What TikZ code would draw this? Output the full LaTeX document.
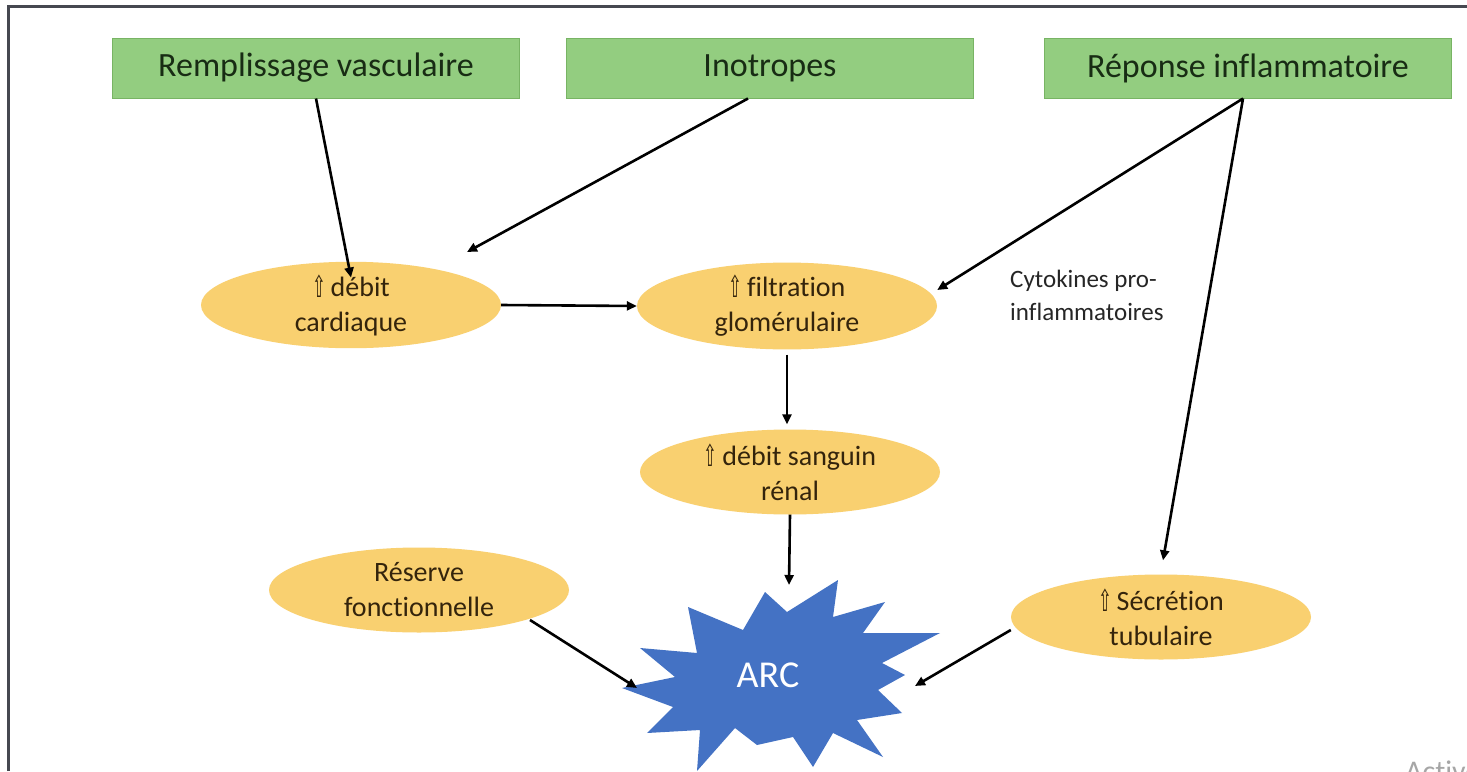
\documentclass[tikz,border=0pt]{standalone}
\usepackage{fontspec}
\setmainfont{Carlito}[Ligatures=NoCommon]
\newfontfamily\sym{DejaVu Sans}
\usetikzlibrary{shapes.geometric,arrows.meta,calc}
\definecolor{boxfill}{RGB}{147,205,128}
\definecolor{boxline}{RGB}{120,180,100}
\definecolor{boxtext}{RGB}{24,44,20}
\definecolor{ellfill}{RGB}{249,208,112}
\definecolor{elltext}{RGB}{52,36,12}
\definecolor{starblue}{RGB}{68,114,196}
\definecolor{framegray}{RGB}{70,72,80}
\newcommand{\up}{\raisebox{-1pt}{\scalebox{0.55}[1]{\sym\fontsize{30}{30}\selectfont ⇧}}\,}
\begin{document}
\begin{tikzpicture}[x=1pt,y=-1pt,
  topbox/.style={draw=boxline,line width=1pt,fill=boxfill,minimum width=407pt,minimum height=60pt,
    inner sep=0pt,text=boxtext,font=\fontsize{34}{36}\selectfont},
  oval/.style={ellipse,fill=ellfill,minimum width=300pt,minimum height=85pt,inner sep=0pt,
    text=elltext,align=center,font=\fontsize{28}{35}\selectfont},
  arr/.style={line width=2.6pt,draw=black,-{Triangle[length=10pt,width=9pt]}}]
\useasboundingbox (0,0) rectangle (1467,771);
\fill[white] (0,0) rectangle (1467,771);
% frame
\draw[framegray,line width=3pt] (8,771) -- (8,6) -- (1467,6);
% top boxes
\node[topbox] (b1) at (316,68) {Remplissage vasculaire};
\node[topbox] (b2) at (770,68) {Inotropes};
\node[topbox] (b3) at (1248,68) {Réponse inflammatoire};
% ellipses
\node[oval] (dc) at (351,305) {\up débit\\cardiaque};
\node[oval] (fg) at (787,306) {\up filtration\\glomérulaire};
\node[oval] (ds) at (790,472) {\up débit sanguin\\rénal};
\node[oval] (rf) at (419,590) {Réserve\\fonctionnelle};
\node[oval] (st) at (1161,617) {\up Sécrétion\\tubulaire};
% cytokines label
\node[anchor=north west,align=left,inner sep=0pt,text=black!85,font=\fontsize{25}{33}\selectfont] (cy) at (1010,270) {Cytokines pro-\\inflammatoires};
% star
\fill[starblue] (622,688) -- (675,677) -- (640,648) -- (697,653) -- (688,607) -- (743,630)
  -- (765,592) -- (787,612) -- (838,580) -- (833,617) -- (885,602) -- (863,633)
  -- (940,633) -- (882,663) -- (905,675) -- (878,690) -- (902,713) -- (857,720)
  -- (883,757) -- (833,733) -- (813,767) -- (793,737) -- (757,745) -- (735,728)
  -- (697,771) -- (700,730) -- (647,733) -- (673,707) -- cycle;
\node[text=white,font=\fontsize{38}{40}\selectfont,inner sep=0pt] (arc) at (768,675) {ARC};
\coordinate (arctop) at (789,585);
\coordinate (arcL) at (637,688);
\coordinate (arcR) at (915,686);
% connectors
\draw[arr] (b1.south) -- ([yshift=-16pt]dc.north);
\draw[arr] ([xshift=-22pt]b2.south) -- ([shift={(116,-53)}]dc.center);
\draw[arr] ([xshift=-5pt]b3.south) -- ([yshift=16pt]fg.east);
\draw[arr] ([xshift=-5pt]b3.south) -- ([shift={(2,-14)}]st.north);
\draw[arr] (dc.east) -- (fg.west);
\draw[arr] ([yshift=-5pt]fg.south) -- ([yshift=5pt]fg.south |- ds.north);
\draw[arr] (ds.south) -- (arctop);
\draw[arr] ([shift={(111,30)}]rf.center) -- (arcL);
\draw[arr] ([yshift=-13pt]st.west) -- (arcR);
% watermark remnant
\node[anchor=base west,inner sep=0pt,text=black!35,font=\fontsize{30}{30}\selectfont] (wm) at (1405,781) {Activer Windows};
\end{tikzpicture}
\end{document}
